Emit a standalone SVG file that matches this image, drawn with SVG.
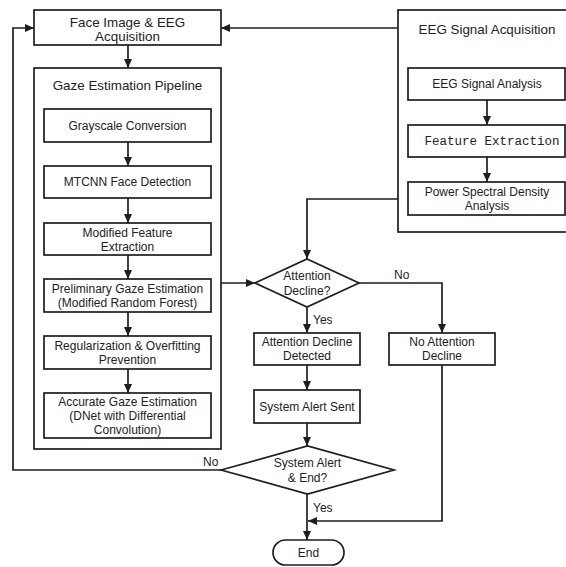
<svg xmlns="http://www.w3.org/2000/svg" width="566" height="567" viewBox="0 0 566 567">
<style>
.b{fill:#fff;stroke:#1e1e1e;stroke-width:1.7}
.t{font-family:"Liberation Sans",Arial,sans-serif;font-size:12px;fill:#222;text-anchor:middle}
.h{font-family:"Liberation Sans",Arial,sans-serif;font-size:13.4px;fill:#222;text-anchor:middle}
.m{font-family:"Liberation Mono","DejaVu Sans Mono",monospace;font-size:12.5px;fill:#222;text-anchor:middle}
.l{font-family:"Liberation Sans",Arial,sans-serif;font-size:12px;fill:#222}
.c{fill:none;stroke:#1e1e1e;stroke-width:1.7}
</style>
<defs>
<marker id="a" markerUnits="userSpaceOnUse" markerWidth="10" markerHeight="8" refX="9" refY="4" orient="auto">
<path d="M0,0 L9,4 L0,8 z" fill="#1e1e1e"/>
</marker>
</defs>
<rect width="566" height="567" fill="#fff"/>
<g id="face-acq"><rect class="b" x="34" y="10" width="187" height="35"/>
<text class="h" x="127.5" y="26.5">Face Image &amp; EEG</text><text class="h" x="127.5" y="40.5">Acquisition</text></g>
<g id="gaze-pipeline"><rect class="b" x="34" y="68" width="187" height="381"/>
<text class="h" x="127.5" y="90">Gaze Estimation Pipeline</text></g>
<g id="grayscale"><rect class="b" x="44" y="109" width="167" height="33"/><text class="t" x="127.5" y="130">Grayscale Conversion</text></g>
<g id="mtcnn"><rect class="b" x="44" y="166" width="167" height="32"/><text class="t" x="127.5" y="186.3">MTCNN Face Detection</text></g>
<g id="mod-feature"><rect class="b" x="44" y="223" width="167" height="32"/><text class="t" x="127.5" y="236.5">Modified  Feature</text><text class="t" x="127.5" y="250.5">Extraction</text></g>
<g id="prelim"><rect class="b" x="44" y="279" width="167" height="33"/><text class="t" x="127.5" y="293">Preliminary Gaze Estimation</text><text class="t" x="127.5" y="307">(Modified Random Forest)</text></g>
<g id="regular"><rect class="b" x="44" y="336" width="167" height="33"/><text class="t" x="127.5" y="350">Regularization &amp; Overfitting</text><text class="t" x="127.5" y="364">Prevention</text></g>
<g id="accurate"><rect class="b" x="44" y="393" width="167" height="45"/><text class="t" x="127.5" y="406">Accurate Gaze Estimation</text><text class="t" x="127.5" y="420">(DNet with Differential</text><text class="t" x="127.5" y="434">Convolution)</text></g>
<g id="eeg-acq"><rect class="b" x="398" y="10" width="170" height="222"/><text class="h" x="487" y="34">EEG Signal Acquisition</text></g>
<g id="eeg-analysis"><rect class="b" x="408" y="68" width="157" height="32"/><text class="t" x="487" y="88.3">EEG Signal Analysis</text></g>
<g id="eeg-feature"><rect class="b" x="408" y="125" width="157" height="32"/><text class="m" x="492" y="145">Feature Extraction</text></g>
<g id="psd"><rect class="b" x="408" y="182" width="157" height="33"/><text class="t" x="487" y="196">Power Spectral Density</text><text class="t" x="487" y="210">Analysis</text></g>
<g id="attention-dec"><path class="b" d="M255,283 L307,259 L359,283 L307,307 Z"/><text class="t" x="307" y="280">Attention</text><text class="t" x="307" y="295">Decline?</text></g>
<g id="detected"><rect class="b" x="254" y="333" width="106" height="32"/><text class="t" x="307" y="346">Attention Decline</text><text class="t" x="307" y="360">Detected</text></g>
<g id="no-attention"><rect class="b" x="389" y="333" width="106" height="32"/><text class="t" x="442" y="346">No Attention</text><text class="t" x="442" y="360">Decline</text></g>
<g id="alert-sent"><rect class="b" x="254" y="390" width="106" height="33"/><text class="t" x="307" y="411">System Alert Sent</text></g>
<g id="alert-end"><path class="b" d="M221,470 L307.5,446 L394,470 L307.5,494 Z"/><text class="t" x="307.5" y="467">System Alert</text><text class="t" x="307.5" y="482">&amp; End?</text></g>
<g id="end"><rect class="b" x="273" y="540" width="71" height="25" rx="12.5"/><text class="t" x="308.5" y="557">End</text></g>
<g id="connectors">
<polyline class="c" points="221,470 13,470 13,28 34,28" marker-end="url(#a)"/>
<line class="c" x1="398" y1="28" x2="221" y2="28" marker-end="url(#a)"/>
<line class="c" x1="128" y1="45" x2="128" y2="68" marker-end="url(#a)"/>
<line class="c" x1="128" y1="142" x2="128" y2="166" marker-end="url(#a)"/>
<line class="c" x1="128" y1="198" x2="128" y2="223" marker-end="url(#a)"/>
<line class="c" x1="128" y1="255" x2="128" y2="279" marker-end="url(#a)"/>
<line class="c" x1="128" y1="312" x2="128" y2="336" marker-end="url(#a)"/>
<line class="c" x1="128" y1="369" x2="128" y2="393" marker-end="url(#a)"/>
<line class="c" x1="487" y1="100" x2="487" y2="125" marker-end="url(#a)"/>
<line class="c" x1="487" y1="157" x2="487" y2="182" marker-end="url(#a)"/>
<line class="c" x1="221" y1="283" x2="255" y2="283" marker-end="url(#a)"/>
<polyline class="c" points="398,199 307,199 307,259" marker-end="url(#a)"/>
<polyline class="c" points="359,283 442,283 442,333" marker-end="url(#a)"/>
<line class="c" x1="307" y1="307" x2="307" y2="333" marker-end="url(#a)"/>
<line class="c" x1="307" y1="365" x2="307" y2="390" marker-end="url(#a)"/>
<line class="c" x1="307" y1="423" x2="307" y2="446" marker-end="url(#a)"/>
<line class="c" x1="307" y1="494" x2="307" y2="540" marker-end="url(#a)"/>
<polyline class="c" points="442,365 442,521 308,521" marker-end="url(#a)"/>
<text class="l" x="394" y="279">No</text>
<text class="l" x="313" y="324">Yes</text>
<text class="l" x="203" y="466">No</text>
<text class="l" x="313" y="512">Yes</text>
</g>
</svg>
